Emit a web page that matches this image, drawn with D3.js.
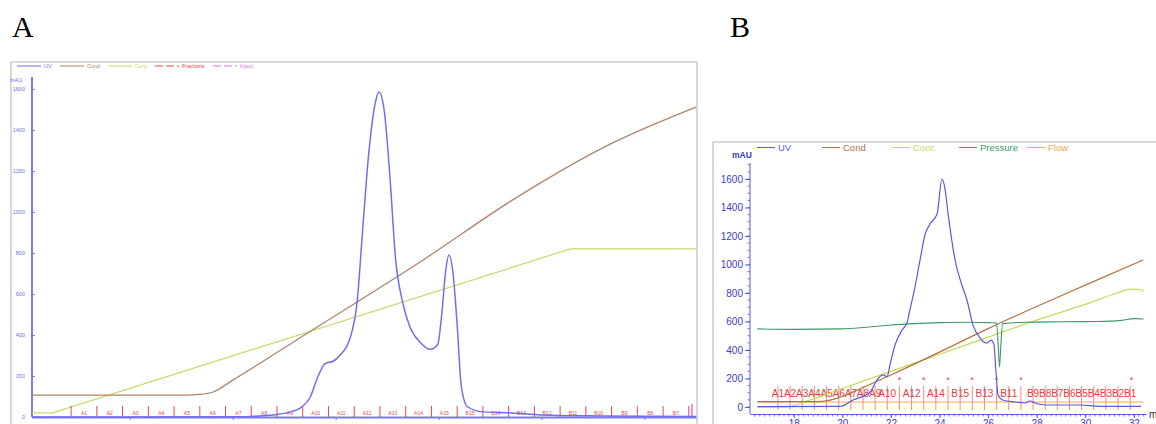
<!DOCTYPE html>
<html>
<head>
<meta charset="utf-8">
<script src="https://cdn.jsdelivr.net/npm/d3@7"></script>
<style>
  body { margin: 0; background: #fff; }
  svg { display: block; }
</style>
</head>
<body>
<script>
// ---------- panel A data (volume, value) ----------
const A_UV = [
  [0.5, 0], [20.0, 1], [21.7, 3], [23.6, 8], [25.6, 25], [26.5, 42], [27.5, 95],
  [28.3, 200], [29.0, 262], [29.75, 272], [30.4, 300], [31.4, 385], [32.1, 570],
  [32.6, 900], [33.2, 1280], [33.8, 1520], [34.2, 1585], [34.7, 1500], [35.3, 1150],
  [35.8, 780], [36.5, 560], [37.2, 440], [38.2, 365], [39.2, 330], [39.9, 352],
  [40.3, 500], [40.7, 720], [41.0, 790], [41.4, 700], [41.8, 450], [42.2, 150],
  [42.8, 50], [44.3, 25], [47.2, 20], [49.9, 10], [55.7, 5], [65.0, 2]
];
const A_COND = [
  [0.5, 107], [15.6, 107], [16.8, 110], [18.1, 122], [20.0, 180], [28.2, 439],
  [38.5, 766], [47.2, 1059], [56.9, 1337], [65.0, 1512]
];
const A_CONC = [[0.5, 20], [2.5, 20], [52.8, 820], [65.0, 820]];
const A_FRACTIONS = [
  4.3, 6.8, 9.3, 11.8, 14.3, 16.8, 19.3, 21.8, 24.3, 26.8, 29.3, 31.8, 34.3,
  36.8, 39.3, 41.8, 44.3, 46.8, 49.3, 51.8, 54.3, 56.8, 59.3, 61.8, 64.3
];
const A_FRACTION_LABELS = [
  "A1", "A2", "A3", "A4", "A5", "A6", "A7", "A8", "A9", "A10", "A11", "A12",
  "A13", "A14", "A15", "B15", "B14", "B13", "B12", "B11", "B10", "B9", "B8", "B7"
];
const A_INJECT = [64.6];
const A_SERIES = ["UV", "Cond", "Conc", "Fractions", "Inject"];
const A_Y_TICKS = [0, 200, 400, 600, 800, 1000, 1200, 1400, 1600];
const A_X_TICKS = [10, 20, 30, 40, 50, 60];

// ---------- panel B data (ml, value) ----------
const B_UV = [
  [16.5, 3], [19.9, 4], [20.44, 49], [21.14, 105], [21.43, 190], [21.67, 225],
  [21.84, 212], [21.96, 295], [22.17, 435], [22.46, 540], [22.66, 590], [22.78, 680],
  [22.99, 842], [23.2, 1032], [23.4, 1207], [23.61, 1284], [23.9, 1354], [24.1, 1600],
  [24.22, 1537], [24.35, 1361], [24.64, 1032], [24.92, 856], [25.13, 751], [25.38, 575],
  [25.67, 484], [25.95, 449], [26.12, 470], [26.24, 440], [26.32, 260], [26.41, 84],
  [26.6, 49], [27.1, 35], [27.52, 28], [27.72, 42], [27.93, 28], [28.34, 14],
  [29.78, 14], [30.6, 5], [32.3, 5]
];
const B_COND = [
  [16.5, 38], [19.0, 38], [19.4, 45], [19.8, 62], [20.5, 110], [22.0, 225],
  [24.0, 385], [26.0, 550], [28.0, 705], [30.0, 855], [32.38, 1032]
];
const B_CONC = [
  [16.5, 0], [17.7, 0], [18.5, 40], [20.0, 130], [22.0, 250], [24.0, 370],
  [26.0, 490], [28.0, 610], [30.0, 720], [31.3, 800], [31.8, 825], [32.2, 825], [32.4, 812]
];
const B_PRESSURE = [
  [16.5, 548], [18.0, 545], [20.0, 548], [21.0, 560], [22.0, 575], [23.0, 585],
  [24.0, 592], [25.0, 595], [26.0, 592], [26.35, 590], [26.42, 420], [26.47, 280],
  [26.52, 420], [26.6, 585], [27.5, 595], [29.0, 598], [30.5, 600], [31.5, 608],
  [32.0, 620], [32.4, 618]
];
const B_FLOW = [[16.5, 35], [32.4, 35]];
const B_FRACTIONS = [
  17.35, 17.85, 18.35, 18.85, 19.35, 19.85, 20.35, 20.85, 21.35, 21.85, 22.35,
  22.85, 23.35, 23.85, 24.35, 24.85, 25.35, 25.85, 26.35, 26.85, 27.35, 27.85,
  28.35, 28.85, 29.35, 29.85, 30.35, 30.85, 31.35, 31.85
];
const B_FRACTION_LABELS = [
  "A1", "A2", "A3", "A4", "A5", "A6", "A7", "A8", "A9", "A10", "", "A12", "",
  "A14", "", "B15", "", "B13", "", "B11", "", "B9", "B8", "B7", "B6", "B5", "B4",
  "B3", "B2", "B1"
];
const B_STARS = [22.35, 23.35, 24.35, 25.35, 26.35, 27.35, 31.9];
const B_SERIES = ["UV", "Cond", "Conc", "Pressure", "Flow"];
const B_Y_TICKS = [0, 200, 400, 600, 800, 1000, 1200, 1400, 1600];
const B_X_TICKS = [18, 20, 22, 24, 26, 28, 30, 32];

// ---------- colours ----------
const A_COLORS = { UV: '#6f6fec', Cond: '#b08468', Conc: '#c9d86a', Fractions: '#e84848', Inject: '#e070e0' };
const B_COLORS = { UV: '#5a5ae0', Cond: '#b3703e', Conc: '#c8d85a', Pressure: '#3c9a6a', Flow: '#f2a65a' };

const svg = d3.select('body').append('svg')
  .attr('width', 1156)
  .attr('height', 424)
  .style('font-family', '"Liberation Sans", Arial, sans-serif');

svg.append('text').attr('x', 12).attr('y', 37)
  .style('font-family', '"Liberation Serif", "Times New Roman", serif')
  .style('font-size', '30px').text('A');
svg.append('text').attr('x', 730).attr('y', 37)
  .style('font-family', '"Liberation Serif", "Times New Roman", serif')
  .style('font-size', '30px').text('B');

function draw_a() {
  const x = d3.scaleLinear().domain([0.5, 65]).range([32, 696]);
  const y = d3.scaleLinear().domain([0, 1600]).range([417, 89]);
  const g = svg.append('g');

  g.append('rect')
    .attr('x', 11).attr('y', 62).attr('width', 686).attr('height', 380)
    .attr('fill', 'none').attr('stroke', '#cccccc').attr('stroke-width', 1.5);

  // legend
  const lx = [17, 60, 108, 155, 213];
  A_SERIES.forEach((s, i) => {
    g.append('line')
      .attr('x1', lx[i]).attr('x2', lx[i] + 24).attr('y1', 66).attr('y2', 66)
      .attr('stroke', A_COLORS[s]).attr('stroke-width', 1)
      .attr('stroke-dasharray', i >= 3 ? '8,3' : null);
    g.append('text')
      .attr('x', lx[i] + 27).attr('y', 68)
      .attr('fill', A_COLORS[s]).style('font-size', '5.5px').text(s);
  });

  g.append('text').attr('x', 10).attr('y', 82)
    .attr('fill', '#6f6fec').style('font-size', '5.5px').text('mAU');

  // x axis labels (cut by the page edge)
  const xa = g.append('g').attr('transform', 'translate(0,417)')
    .call(d3.axisBottom(x).tickValues(A_X_TICKS).tickSize(3).tickPadding(4).tickSizeOuter(0));
  xa.select('.domain').attr('stroke', '#7b7bf0').attr('stroke-width', 2);
  xa.selectAll('line').attr('stroke', '#7b7bf0');
  xa.selectAll('text').attr('fill', '#9090c8').style('font-size', '6px');

  const ya = g.append('g').attr('transform', 'translate(32,0)')
    .call(d3.axisLeft(y).tickValues(A_Y_TICKS).tickFormat(d3.format('d'))
      .tickSize(-3).tickPadding(7).tickSizeOuter(0));
  ya.select('.domain').remove();
  ya.selectAll('line').attr('stroke', '#7b7bf0');
  ya.selectAll('text').attr('fill', '#6f6fec').style('font-size', '5.5px');
  g.append('line')
    .attr('x1', 32).attr('x2', 32).attr('y1', 77).attr('y2', y(0))
    .attr('stroke', '#7b7bf0').attr('stroke-width', 2);

  const line = d3.line().x(d => x(d[0])).y(d => y(d[1]));

  g.append('path').datum(A_CONC)
    .attr('d', line).attr('fill', 'none').attr('stroke', A_COLORS.Conc).attr('stroke-width', 1.2);
  g.append('path').datum(A_COND)
    .attr('d', line.curve(d3.curveMonotoneX)).attr('fill', 'none')
    .attr('stroke', A_COLORS.Cond).attr('stroke-width', 1.3);

  // fractions
  g.selectAll('.afrac').data(A_FRACTIONS).enter().append('line')
    .attr('x1', d => x(d)).attr('x2', d => x(d))
    .attr('y1', 406).attr('y2', y(0))
    .attr('stroke', A_COLORS.Fractions).attr('stroke-width', 1);
  g.selectAll('.aflab').data(A_FRACTION_LABELS).enter().append('text')
    .attr('x', (d, i) => (x(A_FRACTIONS[i]) + x(A_FRACTIONS[i + 1])) / 2)
    .attr('y', 415).attr('text-anchor', 'middle')
    .attr('fill', A_COLORS.Fractions).style('font-size', '5px').text(d => d);
  g.selectAll('.ainj').data(A_INJECT).enter().append('line')
    .attr('x1', d => x(d)).attr('x2', d => x(d))
    .attr('y1', 404).attr('y2', y(0))
    .attr('stroke', A_COLORS.Inject).attr('stroke-width', 1.5);

  g.append('path').datum(A_UV)
    .attr('d', line.curve(d3.curveMonotoneX)).attr('fill', 'none')
    .attr('stroke', A_COLORS.UV).attr('stroke-width', 1.5);
}

function draw_b() {
  const x = d3.scaleLinear().domain([16.2, 32.5]).range([750, 1146]);
  const y = d3.scaleLinear().domain([0, 1600]).range([407, 179]);
  const g = svg.append('g');
  const bottom = 414;

  g.append('rect')
    .attr('x', 713).attr('y', 142).attr('width', 460).attr('height', 300)
    .attr('fill', 'none').attr('stroke', '#cccccc').attr('stroke-width', 1.5);

  // legend
  const lx = [757, 822, 892, 959, 1027];
  B_SERIES.forEach((s, i) => {
    g.append('line')
      .attr('x1', lx[i]).attr('x2', lx[i] + 18).attr('y1', 147.5).attr('y2', 147.5)
      .attr('stroke', B_COLORS[s]).attr('stroke-width', 1);
    g.append('text')
      .attr('x', lx[i] + 21).attr('y', 151)
      .attr('fill', B_COLORS[s]).style('font-size', '9.5px').text(s);
  });
  g.append('text').attr('x', 732).attr('y', 158)
    .attr('fill', '#3a3ac8').style('font-size', '8.5px').style('font-weight', 'bold').text('mAU');

  // axes
  const ya = g.append('g').attr('transform', 'translate(750,0)')
    .call(d3.axisLeft(y).tickValues(B_Y_TICKS).tickFormat(d3.format('d'))
      .tickSize(5).tickPadding(2).tickSizeOuter(0));
  ya.select('.domain').remove();
  ya.selectAll('line').attr('stroke', '#5a5ad0');
  ya.selectAll('text').attr('fill', '#3a3ac8').style('font-size', '10px');
  g.selectAll('.bymin').data(d3.range(0, 35).map(i => i * 50)).enter().append('line')
    .attr('x1', 747.5).attr('x2', 750).attr('y1', d => y(d)).attr('y2', d => y(d))
    .attr('stroke', '#5a5ad0').attr('stroke-width', 0.8);
  g.append('line')
    .attr('x1', 750).attr('x2', 750).attr('y1', y(1712)).attr('y2', bottom)
    .attr('stroke', '#5a5ad0').attr('stroke-width', 1);

  const xa = g.append('g').attr('transform', `translate(0,${bottom})`)
    .call(d3.axisBottom(x).tickValues(B_X_TICKS).tickSize(4).tickPadding(2).tickSizeOuter(0));
  xa.select('.domain').attr('stroke', '#5a5ad0');
  xa.selectAll('line').attr('stroke', '#5a5ad0');
  xa.selectAll('text').attr('fill', '#3a3ac8').style('font-size', '10px');
  g.selectAll('.bxmin').data(d3.range(82, 163).map(i => i / 5)).enter().append('line')
    .attr('x1', d => x(d)).attr('x2', d => x(d)).attr('y1', bottom).attr('y2', bottom + 2.5)
    .attr('stroke', '#5a5ad0').attr('stroke-width', 0.8);
  g.append('text').attr('x', 1149).attr('y', 418)
    .attr('fill', '#333').style('font-size', '10px').text('ml');

  const line = d3.line().x(d => x(d[0])).y(d => y(d[1]));

  // fractions
  g.selectAll('.bfrac').data(B_FRACTIONS).enter().append('line')
    .attr('x1', d => x(d)).attr('x2', d => x(d))
    .attr('y1', 386).attr('y2', 410)
    .attr('stroke', '#f06a6a').attr('stroke-width', 0.8);
  g.selectAll('.bflab').data(B_FRACTION_LABELS).enter().append('text')
    .attr('x', (d, i) => x(B_FRACTIONS[i])).attr('y', 397)
    .attr('text-anchor', 'middle')
    .attr('fill', '#e63c3c').style('font-size', '10px').text(d => d);
  g.selectAll('.bstar').data(B_STARS).enter().append('text')
    .attr('x', d => x(d)).attr('y', 383).attr('text-anchor', 'middle')
    .attr('fill', '#e63c3c').style('font-size', '9px').text('*');

  g.append('path').datum(B_FLOW)
    .attr('d', line).attr('fill', 'none').attr('stroke', B_COLORS.Flow).attr('stroke-width', 1);
  g.append('path').datum(B_CONC)
    .attr('d', line.curve(d3.curveMonotoneX)).attr('fill', 'none')
    .attr('stroke', B_COLORS.Conc).attr('stroke-width', 1.2);
  g.append('path').datum(B_COND)
    .attr('d', line.curve(d3.curveMonotoneX)).attr('fill', 'none')
    .attr('stroke', B_COLORS.Cond).attr('stroke-width', 1.2);
  g.append('path').datum(B_PRESSURE)
    .attr('d', line.curve(d3.curveMonotoneX)).attr('fill', 'none')
    .attr('stroke', B_COLORS.Pressure).attr('stroke-width', 1.1);
  g.append('path').datum(B_UV)
    .attr('d', line.curve(d3.curveMonotoneX)).attr('fill', 'none')
    .attr('stroke', B_COLORS.UV).attr('stroke-width', 1.2);
}

draw_a();
draw_b();
</script>
</body>
</html>
